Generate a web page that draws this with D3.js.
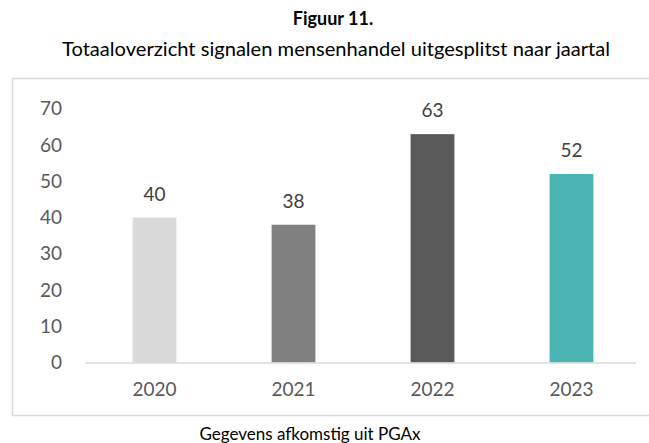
<!DOCTYPE html>
<html><head><meta charset="utf-8">
<script src="https://cdn.jsdelivr.net/npm/d3@7"></script>
<style>body{margin:0;background:#fff}svg{display:block}</style>
</head><body>
<script>
const categories = ["2020","2021","2022","2023"];
const values = [40,38,63,52];
const colors = ["#d9d9d9","#808080","#595959","#4ab5b2"];
const yTicks = [0,10,20,30,40,50,60,70];
const titleText = "Figuur 11.";
const subtitleText = "Totaaloverzicht signalen mensenhandel uitgesplitst naar jaartal";
const sourceText = "Gegevens afkomstig uit PGAx";

const W = 649, H = 443;
const font = "Lato, 'Open Sans', sans-serif";
const svg = d3.select("body").append("svg").attr("width", W).attr("height", H);

svg.append("text").attr("x", 333).attr("y", 25).attr("text-anchor","middle")
  .attr("font-family", font).attr("font-weight","bold").attr("font-size",18).attr("fill","#000").text(titleText);
svg.append("text").attr("x", 336).attr("y", 56).attr("text-anchor","middle")
  .attr("font-family", font).attr("font-size",19).attr("fill","#000")
  .attr("textLength",548).attr("lengthAdjust","spacingAndGlyphs").text(subtitleText);

// chart border
svg.append("rect").attr("x",12.5).attr("y",78.5).attr("width",660).attr("height",337)
  .attr("fill","none").attr("stroke","#d9d9d9").attr("stroke-width",1.5);

const x = d3.scaleBand().domain(categories).range([85, 641]).paddingInner(0.685).paddingOuter(0.3425);
const y = d3.scaleLinear().domain([0,70]).range([362.5, 108.75]);

svg.append("g").selectAll("rect").data(values).join("rect")
  .attr("x",(d,i)=>x(categories[i])).attr("width",x.bandwidth())
  .attr("y",d=>y(d)).attr("height",d=>y(0)-y(d)).attr("fill",(d,i)=>colors[i]);

const ya = svg.append("g").attr("transform","translate(62,0)")
  .call(d3.axisLeft(y).tickValues(yTicks).tickSize(0).tickPadding(0));
ya.select(".domain").remove();
ya.selectAll("text").attr("font-family",font).attr("font-size",19).attr("fill","#595959");

const xa = svg.append("g").attr("transform",`translate(0,${y(0)})`)
  .call(d3.axisBottom(x).tickSize(0).tickPadding(20));
xa.select(".domain").attr("stroke","#d9d9d9").attr("stroke-width",1.5).attr("d","M85,0.5H636");
xa.selectAll("text").attr("font-family",font).attr("font-size",19).attr("fill","#595959");

svg.append("g").selectAll("text").data(values).join("text")
  .attr("x",(d,i)=>x(categories[i])+x.bandwidth()/2).attr("y",d=>y(d)-17)
  .attr("text-anchor","middle").attr("font-family",font).attr("font-size",19).attr("fill","#404040").text(d=>d);

svg.append("text").attr("x", 310).attr("y", 440).attr("text-anchor","middle")
  .attr("font-family", font).attr("font-size",17).attr("fill","#000").text(sourceText);
</script>
</body></html>
